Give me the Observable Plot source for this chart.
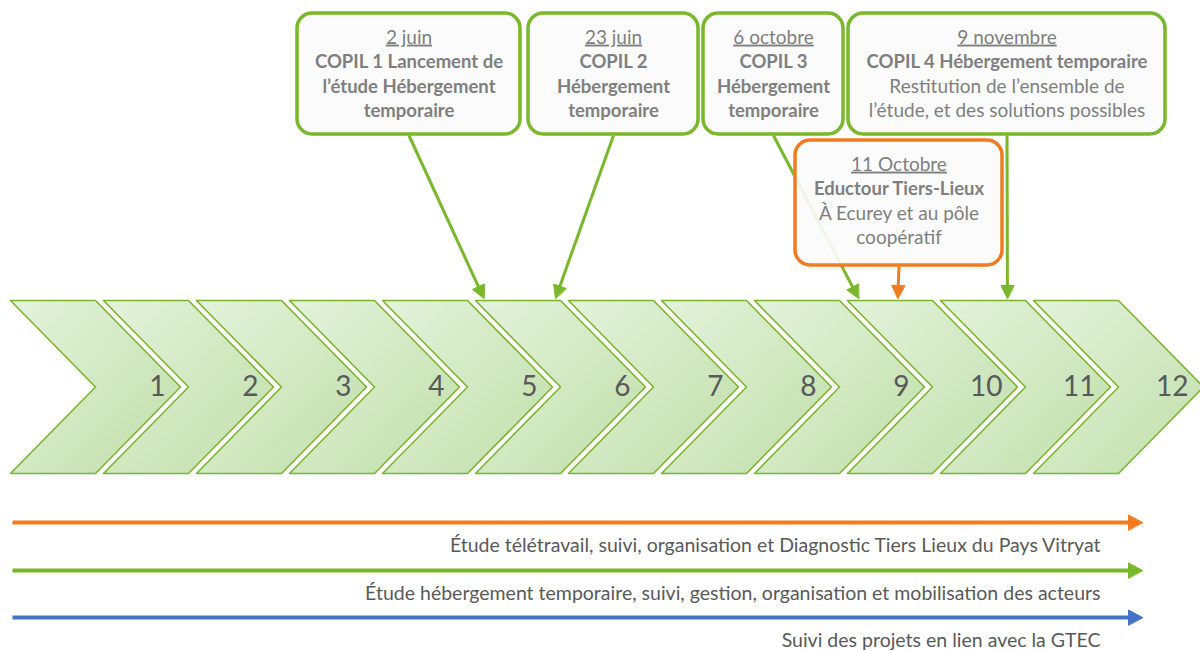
<!DOCTYPE html>
<html><head><meta charset="utf-8">
<script src="https://cdn.jsdelivr.net/npm/d3@7"></script>
<script src="https://cdn.jsdelivr.net/npm/@observablehq/plot@0.6"></script>
<style>body{margin:0;background:#fff}#chart svg{display:block}</style>
</head><body><div id="chart"></div>
<script>
// ---------- DATA ----------
const months = [1, 2, 3, 4, 5, 6, 7, 8, 9, 10, 11, 12];
const monthLabels = ["1", "2", "3", "4", "5", "6", "7", "8", "9", "10", "11", "12"];

const milestoneDate = ["2 juin", "23 juin", "6 octobre", "9 novembre", "11 Octobre"];
const milestoneBold = [
  ["COPIL 1 Lancement de", "l’étude Hébergement", "temporaire"],
  ["COPIL 2", "Hébergement", "temporaire"],
  ["COPIL 3", "Hébergement", "temporaire"],
  ["COPIL 4 Hébergement temporaire"],
  ["Eductour Tiers-Lieux"]
];
const milestoneNote = [
  [], [], [],
  ["Restitution de l’ensemble de", "l’étude, et des solutions possibles"],
  ["À Ecurey et au pôle", "coopératif"]
];
// position on the month axis each callout points to
const milestoneAt = [5.09, 5.86, 9.12, 10.72, 9.54];
const milestoneTrack = ["heb", "heb", "heb", "heb", "tele"];

const trackId = ["tele", "heb", "gtec"];
const trackLabel = [
  "Étude télétravail, suivi, organisation et Diagnostic Tiers Lieux du Pays Vitryat",
  "Étude hébergement temporaire, suivi, gestion, organisation et mobilisation des acteurs",
  "Suivi des projets en lien avec la GTEC"
];

// ---------- LAYOUT / STYLE ----------
const COLORS = {tele: "#f27b22", heb: "#78b82a", gtec: "#4472c4"};
const FONT = "Lato, 'Open Sans', sans-serif";
const TEXT_GRAY = "#7f7f7f";
const DARK_GRAY = "#595959";
const X0 = 10, PX_PER_MONTH = 93;
const xOpts = {type: "linear", domain: [-X0 / PX_PER_MONTH, (1200 - X0) / PX_PER_MONTH], range: [0, 1200]};
const xs = Plot.scale({x: xOpts});
const CHEV = {top: 300, bottom: 473, notch: 85 / PX_PER_MONTH, tip: 170 / PX_PER_MONTH, labelAt: 155 / PX_PER_MONTH};
const boxPx = [
  {x1: 297, x2: 520, y1: 13, y2: 134},
  {x1: 528, x2: 698, y1: 13, y2: 134},
  {x1: 703, x2: 843, y1: 13, y2: 134},
  {x1: 848, x2: 1165, y1: 13, y2: 134},
  {x1: 795, x2: 1002, y1: 140, y2: 265}
];
const ARROW_TIP_Y = 298, HEAD_LEN = 13, HEAD_HW = 6.5;
const LINE_H = 24.6, FIRST_LINE = 24;
const trackY = [522, 570, 617];
const trackStartPx = 12, trackTipPx = 1142, trackTextPx = 1100;

// ---------- BUILD ----------
const mid = (CHEV.top + CHEV.bottom) / 2;
const chevronPts = months.flatMap(m => {
  const L = m - 1;
  return [[L, CHEV.top], [L + CHEV.notch, CHEV.top], [L + CHEV.tip, mid], [L + CHEV.notch, CHEV.bottom], [L, CHEV.bottom], [L + CHEV.notch, mid]]
    .map(([x, y]) => ({m, x, y}));
});
const chevronLabels = months.map((m, i) => ({x: m - 1 + CHEV.labelAt, y: mid, text: monthLabels[i]}));

const boxes = boxPx.map((b, i) => ({
  x1: xs.invert(b.x1), x2: xs.invert(b.x2), y1: b.y1, y2: b.y2,
  cx: (b.x1 + b.x2) / 2, track: milestoneTrack[i]
}));

const textRows = [];
boxes.forEach((b, i) => {
  const lines = [{t: milestoneDate[i], k: "date"}]
    .concat(milestoneBold[i].map(t => ({t, k: "bold"})))
    .concat(milestoneNote[i].map(t => ({t, k: "note"})));
  lines.forEach((l, j) => textRows.push({x: xs.invert(b.cx), y: b.y1 + FIRST_LINE + j * LINE_H, text: l.t, kind: l.k}));
});

const arrowLinks = [], arrowHeads = [];
boxes.forEach((b, i) => {
  const sx = b.cx, sy = b.y2 + 1;
  const tx = xs.apply(milestoneAt[i]), ty = ARROW_TIP_Y;
  const dx = tx - sx, dy = ty - sy, len = Math.hypot(dx, dy);
  const ux = dx / len, uy = dy / len;
  const bx = tx - ux * HEAD_LEN, by = ty - uy * HEAD_LEN;
  arrowLinks.push({x1: xs.invert(sx), y1: sy, x2: xs.invert(bx + ux), y2: by + uy, track: b.track});
  const px = -uy, py = ux;
  [[tx, ty], [bx + px * HEAD_HW, by + py * HEAD_HW], [bx - px * HEAD_HW, by - py * HEAD_HW]]
    .forEach(([x, y]) => arrowHeads.push({id: "m" + i, x: xs.invert(x), y, track: b.track}));
});

trackId.forEach((id, i) => {
  const y = trackY[i];
  const bx = trackTipPx - 14;
  arrowLinks.push({x1: xs.invert(trackStartPx), y1: y, x2: xs.invert(bx + 1), y2: y, track: id, w: 4});
  [[trackTipPx, y], [bx, y - 7.5], [bx, y + 7.5]].forEach(([x, yy]) => arrowHeads.push({id: "t" + i, x: xs.invert(x), y: yy, track: id}));
});
const trackText = trackId.map((id, i) => ({x: xs.invert(trackTextPx), y: trackY[i] + 23, text: trackLabel[i]}));

const marks = [
  Plot.line(chevronPts, {x: "x", y: "y", z: "m", fill: "url(#chevGrad)", stroke: "#7ab62c", strokeWidth: 1.6, curve: "linear-closed"}),
  Plot.text(chevronLabels, {x: "x", y: "y", text: "text", textAnchor: "end", fontSize: 28, fontFamily: FONT, fill: DARK_GRAY})
];
for (const id of Object.keys(COLORS)) {
  marks.push(Plot.link(arrowLinks.filter(d => d.track === id && d.w), {x1: "x1", y1: "y1", x2: "x2", y2: "y2", stroke: COLORS[id], strokeWidth: 4}));
  marks.push(Plot.link(arrowLinks.filter(d => d.track === id && !d.w), {x1: "x1", y1: "y1", x2: "x2", y2: "y2", stroke: COLORS[id], strokeWidth: 3}));
}
for (const id of ["heb", "tele"]) {
  marks.push(Plot.rect(boxes.filter(d => d.track === id), {x1: "x1", x2: "x2", y1: "y1", y2: "y2", rx: 15, fill: "#fbfbfb", fillOpacity: 0.9, stroke: COLORS[id], strokeWidth: 3.5}));
}
for (const id of Object.keys(COLORS)) {
  marks.push(Plot.line(arrowHeads.filter(d => d.track === id), {x: "x", y: "y", z: "id", fill: COLORS[id], stroke: COLORS[id], strokeWidth: 1, curve: "linear-closed"}));
}
marks.push(
  Plot.text(textRows.filter(d => d.kind === "date"), {x: "x", y: "y", text: "text", fontSize: 19, fontFamily: FONT, fill: TEXT_GRAY, ariaDescription: "milestone-date"}),
  Plot.text(textRows.filter(d => d.kind === "bold"), {x: "x", y: "y", text: "text", fontSize: 18.5, fontWeight: "bold", fontFamily: FONT, fill: TEXT_GRAY}),
  Plot.text(textRows.filter(d => d.kind === "note"), {x: "x", y: "y", text: "text", fontSize: 19, fontFamily: FONT, fill: TEXT_GRAY}),
  Plot.text(trackText, {x: "x", y: "y", text: "text", textAnchor: "end", fontSize: 19.5, fontFamily: FONT, fill: DARK_GRAY})
);

const chart = Plot.plot({
  width: 1200, height: 651, margin: 0,
  x: {...xOpts, axis: null},
  y: {type: "identity", axis: null},
  style: {background: "#fff"},
  marks
});
const svg = d3.select(chart);
const grad = svg.insert("defs", ":first-child").append("linearGradient")
  .attr("id", "chevGrad").attr("x1", 0).attr("y1", 0).attr("x2", 1).attr("y2", 1);
grad.append("stop").attr("offset", "0%").attr("stop-color", "#e4f2dc");
grad.append("stop").attr("offset", "100%").attr("stop-color", "#c0dfa9");
svg.selectAll("[aria-description='milestone-date'] text").style("text-decoration", "underline");
document.getElementById("chart").appendChild(chart);
</script>
</body></html>
